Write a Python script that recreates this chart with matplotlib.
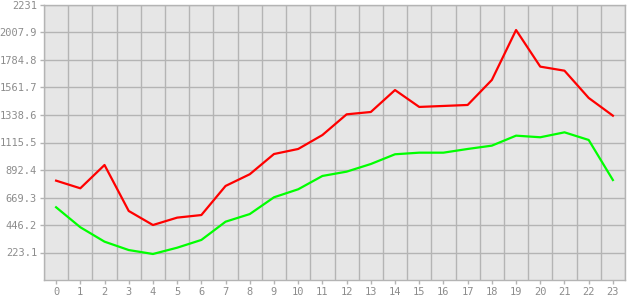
import matplotlib

matplotlib.use("Agg")
import matplotlib.pyplot as plt
import numpy as np

hours = list(range(24))
red_vals = [806, 744, 933, 560, 446, 506, 527, 763, 858, 1022, 1063, 1176,
            1344, 1363, 1541, 1404, 1412, 1420, 1623, 2028, 1731, 1698, 1477, 1333]
green_vals = [590, 428, 311, 243, 211, 262, 325, 473, 535, 671, 736, 844,
              879, 941, 1020, 1033, 1033, 1063, 1090, 1171, 1158, 1198, 1136, 811]
y_ticks = [223.1, 446.2, 669.3, 892.4, 1115.5, 1338.6, 1561.7, 1784.8, 2007.9, 2231]
y_labels = ["223.1", "446.2", "669.3", "892.4", "1115.5", "1338.6", "1561.7",
            "1784.8", "2007.9", "2231"]

grid_c = "#b4b4b4"
text_c = "#8c8c8c"

fig = plt.figure(figsize=(6.3, 3.0), dpi=100)
ax = fig.add_axes([44 / 630, 20 / 300, 581 / 630, 275 / 300])
ax.set_facecolor("#e6e6e6")

ax.plot(hours, red_vals, color="#ff0000", lw=1.6, zorder=3)
ax.plot(hours, green_vals, color="#00ff00", lw=1.6, zorder=3)

ax.set_xlim(-0.5, 23.5)
ax.set_ylim(0, 2231)
ax.set_xticks(hours)
ax.set_xticklabels([str(h) for h in hours])
ax.set_yticks(y_ticks)
ax.set_yticklabels(y_labels)

# grid between categories
ax.set_xticks(np.arange(-0.5, 24, 1), minor=True)
ax.grid(True, which="minor", axis="x", color=grid_c, lw=1)
ax.grid(True, which="major", axis="y", color=grid_c, lw=1)
ax.tick_params(axis="x", which="minor", length=0)
ax.tick_params(axis="both", which="major", colors=grid_c, labelcolor=text_c,
               labelsize=7.5, length=3, width=1, pad=2)
for lab in ax.get_xticklabels() + ax.get_yticklabels():
    lab.set_family("DejaVu Sans Mono")
for s in ax.spines.values():
    s.set_color(grid_c)
    s.set_linewidth(1)

fig.savefig("out.png", dpi=100)
